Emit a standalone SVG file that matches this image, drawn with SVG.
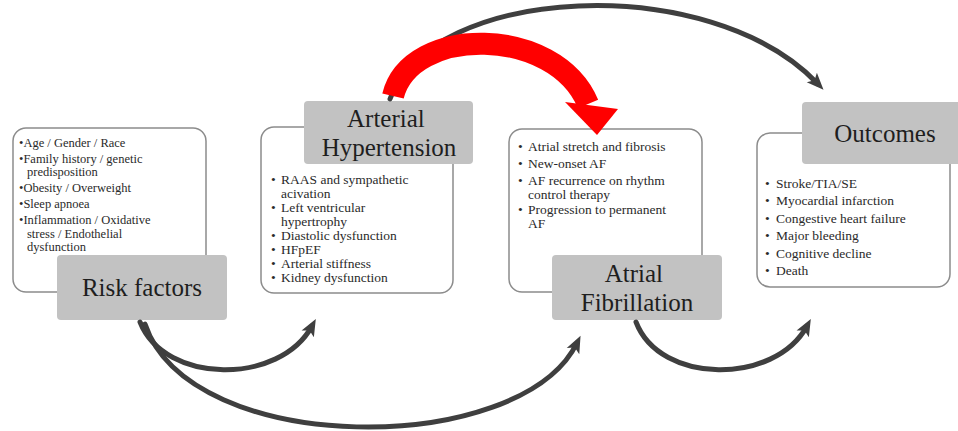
<svg xmlns="http://www.w3.org/2000/svg" width="958" height="431" viewBox="0 0 958 431">
  <style>
    .card { fill: #ffffff; stroke: #8c8c8c; stroke-width: 1.5; }
    .tag { fill: #c2c2c2; }
    text { font-family: 'Liberation Serif', 'Times New Roman', Tinos, 'Noto Serif', 'DejaVu Serif', serif; }
    .title { font-size: 25px; fill: #1e1e1e; text-anchor: middle; }
    .item { font-size: 13.5px; fill: #2a2a2a; }
    .item-sm { font-size: 12.5px; fill: #2a2a2a; }
    .link { fill: none; stroke: #3f3f3f; stroke-width: 5; stroke-linecap: round; }
  </style>
  <defs>
    <marker id="head" markerUnits="userSpaceOnUse" markerWidth="18" markerHeight="18" viewBox="0 0 18 18" refX="9" refY="9" orient="auto">
      <path d="M0,2 L17,9 L0,16 L4,9 Z" fill="#3f3f3f"/>
    </marker>
  </defs>

  <rect width="958" height="431" fill="#ffffff"/>

  <!-- Risk factors -->
  <g id="risk-factors">
    <rect class="card" x="13" y="128" width="193" height="164" rx="13"/>
    <text class="item-sm">
      <tspan x="19" y="147">•Age / Gender / Race</tspan>
      <tspan x="19" y="163">•Family history / genetic</tspan>
      <tspan x="27" y="176">predisposition</tspan>
      <tspan x="19" y="192">•Obesity / Overweight</tspan>
      <tspan x="19" y="208">•Sleep apnoea</tspan>
      <tspan x="19" y="224">•Inflammation / Oxidative</tspan>
      <tspan x="27" y="238">stress / Endothelial</tspan>
      <tspan x="27" y="251">dysfunction</tspan>
    </text>
    <rect class="tag" x="57" y="255" width="170" height="65" rx="4"/>
    <text class="title" x="142" y="296">Risk factors</text>
  </g>

  <!-- Arterial Hypertension -->
  <g id="arterial-hypertension">
    <rect class="card" x="261" y="127" width="192" height="166" rx="13"/>
    <text class="item">
      <tspan x="271" y="184">•</tspan><tspan x="281" y="184">RAAS and sympathetic</tspan>
      <tspan x="281" y="198">acivation</tspan>
      <tspan x="271" y="212">•</tspan><tspan x="281" y="212">Left ventricular</tspan>
      <tspan x="281" y="226">hypertrophy</tspan>
      <tspan x="271" y="240">•</tspan><tspan x="281" y="240">Diastolic dysfunction</tspan>
      <tspan x="271" y="254">•</tspan><tspan x="281" y="254">HFpEF</tspan>
      <tspan x="271" y="268">•</tspan><tspan x="281" y="268">Arterial stiffness</tspan>
      <tspan x="271" y="282">•</tspan><tspan x="281" y="282">Kidney dysfunction</tspan>
    </text>
    <rect class="tag" x="304" y="101" width="169" height="63" rx="4"/>
    <text class="title">
      <tspan x="389" y="127">Arterial</tspan>
      <tspan x="389" y="156">Hypertension</tspan>
    </text>
  </g>

  <!-- Atrial Fibrillation -->
  <g id="atrial-fibrillation">
    <rect class="card" x="509" y="129" width="193" height="163" rx="13"/>
    <text class="item">
      <tspan x="518" y="151">•</tspan><tspan x="528" y="151">Atrial stretch and fibrosis</tspan>
      <tspan x="518" y="168">•</tspan><tspan x="528" y="168">New-onset AF</tspan>
      <tspan x="518" y="185">•</tspan><tspan x="528" y="185">AF recurrence on rhythm</tspan>
      <tspan x="528" y="199">control therapy</tspan>
      <tspan x="518" y="214">•</tspan><tspan x="528" y="214">Progression to permanent</tspan>
      <tspan x="528" y="228">AF</tspan>
    </text>
    <rect class="tag" x="552" y="255" width="170" height="65" rx="4"/>
    <text class="title">
      <tspan x="637" y="282">Atrial</tspan>
      <tspan x="637" y="311">Fibrillation</tspan>
    </text>
  </g>

  <!-- Outcomes -->
  <g id="outcomes">
    <rect class="card" x="757" y="133" width="193" height="154" rx="13"/>
    <text class="item">
      <tspan x="765" y="188">•</tspan><tspan x="776" y="188">Stroke/TIA/SE</tspan>
      <tspan x="765" y="205">•</tspan><tspan x="776" y="205">Myocardial infarction</tspan>
      <tspan x="765" y="223">•</tspan><tspan x="776" y="223">Congestive heart failure</tspan>
      <tspan x="765" y="240">•</tspan><tspan x="776" y="240">Major bleeding</tspan>
      <tspan x="765" y="258">•</tspan><tspan x="776" y="258">Cognitive decline</tspan>
      <tspan x="765" y="275">•</tspan><tspan x="776" y="275">Death</tspan>
    </text>
    <rect class="tag" x="802" y="102" width="170" height="62" rx="4"/>
    <text class="title" x="885" y="142">Outcomes</text>
  </g>

  <!-- Connectors -->
  <g id="connectors">
    <!-- Arterial Hypertension to Outcomes (over the top) -->
    <path class="link" d="M390 99 C430 -15 710 -30 818 84" marker-end="url(#head)"/>
    <!-- Risk factors to Arterial Hypertension -->
    <path class="link" d="M140 322 C165 385 280 385 312 326" marker-end="url(#head)"/>
    <!-- Risk factors to Atrial Fibrillation -->
    <path class="link" d="M145 324 C190 458 520 458 577 343" marker-end="url(#head)"/>
    <!-- Atrial Fibrillation to Outcomes -->
    <path class="link" d="M636 322 C660 385 775 385 807 326" marker-end="url(#head)"/>
    <!-- Arterial Hypertension to Atrial Fibrillation (bold red) -->
    <path d="M393 96 C410 25 555 25 588 104" fill="none" stroke="#ff0000" stroke-width="22"/>
    <polygon points="565,102 618,109 597,135" fill="#ff0000"/>
  </g>
</svg>
